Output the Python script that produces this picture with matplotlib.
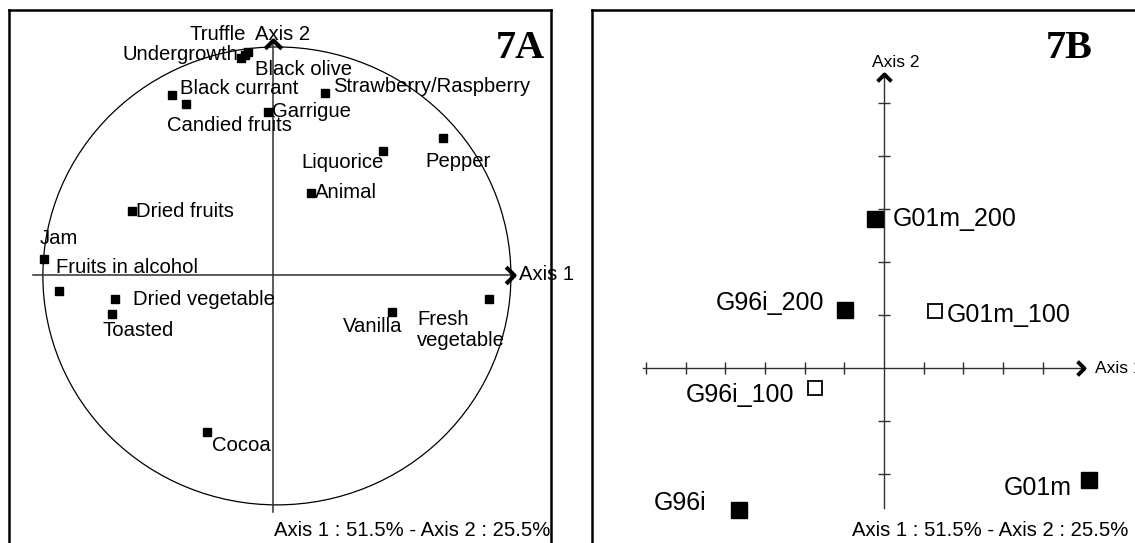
import numpy as np
import matplotlib.pyplot as plt
from matplotlib.patches import Ellipse

plt.rcParams['font.family'] = ['Liberation Sans', 'DejaVu Sans']

# 7A : descriptors on the correlation circle
descriptors = ['Truffle', 'Undergrowth', 'Black olive', 'Black currant', 'Candied fruits',
               'Garrigue', 'Strawberry/Raspberry', 'Pepper', 'Liquorice', 'Animal',
               'Dried fruits', 'Jam', 'Fruits in alcohol', 'Dried vegetable', 'Toasted',
               'Vanilla', 'Fresh\nvegetable', 'Cocoa']
desc_ax1 = [-0.109, -0.139, -0.122, -0.439, -0.378, -0.022, 0.226, 0.739, 0.478, 0.165,
            -0.613, -0.996, -0.930, -0.687, -0.700, 0.517, 0.939, -0.287]
desc_ax2 = [0.970, 0.943, 0.957, 0.783, 0.743, 0.709, 0.791, 0.596, 0.539, 0.357,
            0.278, 0.070, -0.070, -0.104, -0.170, -0.161, -0.104, -0.683]

# 7B : wines on the factorial plane
wines = ['G01m_200', 'G96i_200', 'G01m_100', 'G96i_100', 'G01m', 'G96i']
wine_ax1 = [-0.23, -0.98, 1.28, -1.74, 5.16, -3.65]
wine_ax2 = [2.81, 1.09, 1.08, -0.38, -2.11, -2.68]
wine_filled = [True, True, False, False, True, True]

inertia = 'Axis 1 : 51.5% - Axis 2 : 25.5%'

# label placement (pixel offsets, alignment)
desc_lab = [(-2, 17, 'right'), (-3, 4, 'right'), (10, -15, 'left'), (8, 6, 'left'),
            (-19, -21, 'left'), (4, 0, 'left'), (8, 7, 'left'), (-18, -24, 'left'),
            (1, -11, 'right'), (4, 0, 'left'), (4, 0, 'left'), (-4, 20, 'left'),
            (-3, 24, 'left'), (18, -1, 'left'), (-10, -16, 'left'), (10, -14, 'right'),
            (-72, -31, 'left'), (5, -13, 'left')]
wine_lab = [(18, 0, 'left'), (-21, 7, 'right'), (12, -4, 'left'), (-21, -7, 'right'),
            (-17, -8, 'right'), (-33, 7, 'right')]

W, H = 1135, 543
PT = 0.72  # px -> pt at 100 dpi
AXC = '#303030'
FS = 14.6
chev_r = [(-1, 1), (0, 0), (-1, -1)]
chev_u = [(-1, -1), (0, 0), (1, -1)]

fig = plt.figure(figsize=(W / 100, H / 100), dpi=100)

# ---------------- 7A ----------------
sa = 230.0  # px per unit
ox, oy = 273, 275
axA = fig.add_axes([9 / W, 1 - 560 / H, 542 / W, 550 / H])
axA.set_xlim((9 - ox) / sa, (551 - ox) / sa)
axA.set_ylim((oy - 560) / sa, (oy - 10) / sa)
axA.set_xticks([])
axA.set_yticks([])
for s in axA.spines.values():
    s.set_linewidth(1.8)

axA.add_patch(Ellipse((0.017, -0.004), 2.035, 1.991, fill=False, lw=0.9, ec='black'))
axA.plot([(33 - ox) / sa, (514 - ox) / sa], [0, 0], color=AXC, lw=1.1)
axA.plot([0, 0], [(oy - 512) / sa, (oy - 40) / sa], color=AXC, lw=1.1)
axA.plot([(514 - ox) / sa], [0], marker=chev_r, ms=12, mfc='none', mec='black', mew=3.0)
axA.plot([0], [(oy - 40) / sa], marker=chev_u, ms=12, mfc='none', mec='black', mew=3.0)
axA.text((519 - ox) / sa, 0, 'Axis 1', fontsize=FS, va='center', ha='left')
axA.text((255 - ox) / sa, (oy - 35) / sa, 'Axis 2', fontsize=FS, va='center', ha='left')

axA.plot(desc_ax1, desc_ax2, 's', color='black', ms=6, ls='none')
for name, x, y, (dx, dy, ha) in zip(descriptors, desc_ax1, desc_ax2, desc_lab):
    axA.annotate(name, (x, y), xytext=(dx * PT, dy * PT), textcoords='offset points',
                 ha=ha, va='center', fontsize=FS, linespacing=1.1)

axA.text((520 - ox) / sa, (oy - 48) / sa, '7A', fontsize=29, fontweight='bold',
         family='Liberation Serif', ha='center', va='center')
axA.text((550 - ox) / sa, (oy - 530) / sa, inertia, fontsize=FS, ha='right', va='center')

# ---------------- 7B ----------------
sx, sy = 39.7, 53.0
bx, by = 884, 368
axB = fig.add_axes([592 / W, 1 - 560 / H, (1150 - 592) / W, 550 / H])
axB.set_xlim((592 - bx) / sx, (1150 - bx) / sx)
axB.set_ylim((by - 560) / sy, (by - 10) / sy)
axB.set_xticks([])
axB.set_yticks([])
for s in axB.spines.values():
    s.set_linewidth(1.8)

xt = [t for t in range(-6, 5) if t != 0]
yt = [t for t in range(-2, 6) if t != 0]
axB.plot([-6.07, 5.04], [0, 0], color=AXC, lw=1.0)
axB.plot([0, 0], [-2.64, 5.55], color=AXC, lw=1.0)
axB.plot(xt, np.zeros(len(xt)), '|', color=AXC, ms=8.5, mew=1.0)
axB.plot(np.zeros(len(yt)), yt, '_', color=AXC, ms=8, mew=1.0)
axB.plot([5.04], [0], marker=chev_r, ms=10, mfc='none', mec='black', mew=2.8)
axB.plot([0], [5.55], marker=chev_u, ms=10, mfc='none', mec='black', mew=2.8)
axB.text(0.3, (by - 62) / sy, 'Axis 2', fontsize=12.5, ha='center', va='center')
axB.text((1095 - bx) / sx, 0, 'Axis 1', fontsize=12.5, ha='left', va='center')

for name, x, y, f, (dx, dy, ha) in zip(wines, wine_ax1, wine_ax2, wine_filled, wine_lab):
    if f:
        axB.plot(x, y, 's', color='black', ms=12)
    else:
        axB.plot(x, y, 's', mfc='white', mec='black', ms=10.5, mew=1.3)
    axB.annotate(name, (x, y), xytext=(dx * PT, dy * PT), textcoords='offset points',
                 ha=ha, va='center', fontsize=18)

axB.text((1069 - bx) / sx, (by - 48) / sy, '7B', fontsize=29, fontweight='bold',
         family='Liberation Serif', ha='center', va='center')
axB.text((852 - bx) / sx, (by - 530) / sy, inertia, fontsize=FS, ha='left', va='center')

fig.savefig('out.png', dpi=100)
